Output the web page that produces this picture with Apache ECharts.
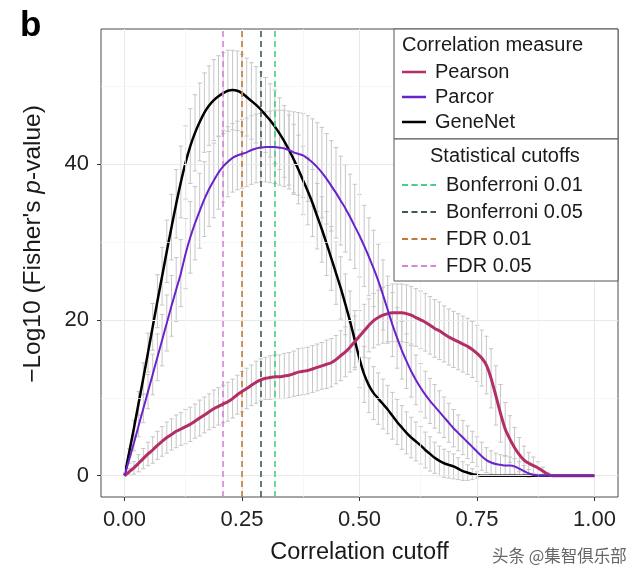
<!DOCTYPE html>
<html><head><meta charset="utf-8">
<script src="https://cdn.jsdelivr.net/npm/echarts@6/dist/echarts.min.js"></script>
<style>html,body{margin:0;padding:0;background:#fff}#c{width:640px;height:579px}</style>
</head><body><div id="c"></div>
<script>
// Correlation cutoff (x)
const cutoffs = [
  0.00,0.01,0.02,0.03,0.04,0.05,0.06,0.07,0.08,0.09,
  0.10,0.11,0.12,0.13,0.14,0.15,0.16,0.17,0.18,0.19,
  0.20,0.21,0.22,0.23,0.24,0.25,0.26,0.27,0.28,0.29,
  0.30,0.31,0.32,0.33,0.34,0.35,0.36,0.37,0.38,0.39,
  0.40,0.41,0.42,0.43,0.44,0.45,0.46,0.47,0.48,0.49,
  0.50,0.51,0.52,0.53,0.54,0.55,0.56,0.57,0.58,0.59,
  0.60,0.61,0.62,0.63,0.64,0.65,0.66,0.67,0.68,0.69,
  0.70,0.71,0.72,0.73,0.74,0.75,0.76,0.77,0.78,0.79,
  0.80,0.81,0.82,0.83,0.84,0.85,0.86,0.87,0.88,0.89,
  0.90,0.91,0.92,0.93,0.94,0.95,0.96,0.97,0.98,0.99,
  1.00];
// Pearson mean and error half-width
const pearson = [
  0,0.5,1.0,1.6,2.2,2.8,3.3,3.9,4.4,4.9,
  5.3,5.7,6.0,6.3,6.6,7.0,7.4,7.8,8.2,8.6,
  8.9,9.2,9.5,9.9,10.4,10.8,11.2,11.6,12.0,12.3,
  12.5,12.6,12.7,12.7,12.8,12.9,13.1,13.3,13.4,13.5,
  13.7,13.9,14.1,14.3,14.5,14.9,15.4,15.9,16.5,17.2,
  17.9,18.6,19.3,19.9,20.3,20.6,20.8,20.9,20.9,20.9,
  20.8,20.6,20.3,20.0,19.7,19.3,18.9,18.6,18.2,17.8,
  17.5,17.2,16.9,16.6,16.2,15.7,15.1,14.2,12.5,10.3,
  8.0,6.0,4.7,3.6,2.7,2.0,1.6,1.3,1.0,0.6,
  0.2,0,0,0,0,0,0,0,0,0,
  0];
const pearsonSd = [
  0,0.4,0.8,1.1,1.3,1.5,1.7,1.8,1.9,2.0,
  2.0,2.1,2.1,2.2,2.2,2.2,2.3,2.3,2.3,2.4,
  2.4,2.4,2.5,2.5,2.5,2.6,2.6,2.6,2.7,2.7,
  2.7,2.8,2.8,2.8,2.9,2.9,2.9,3.0,3.0,3.0,
  3.0,3.0,3.0,3.1,3.1,3.1,3.2,3.2,3.2,3.3,
  3.3,3.4,3.4,3.5,3.5,3.6,3.6,3.7,3.7,3.7,
  3.7,3.7,3.7,3.7,3.7,3.7,3.7,3.7,3.6,3.6,
  3.6,3.6,3.6,3.6,3.6,3.6,3.6,3.7,3.8,3.8,
  3.7,3.4,3.0,2.6,2.2,1.8,1.4,1.1,0.8,0.5,
  0.2,0,0,0,0,0,0,0,0,0,
  0];
// Parcor
const parcor = [
  0,2.1,4.2,6.4,8.6,10.8,13.0,15.2,17.4,19.6,
  21.8,23.9,26.0,28.5,30.6,32.4,34.0,35.5,36.8,37.9,
  38.9,39.7,40.3,40.8,41.1,41.3,41.5,41.8,42.0,42.1,
  42.2,42.2,42.2,42.1,42.0,41.8,41.5,41.3,41.1,40.7,
  40.2,39.6,38.9,38.1,37.2,36.3,35.3,34.3,33.2,32.0,
  30.8,29.5,28.1,26.6,25.0,23.2,21.3,19.4,17.7,16.1,
  14.7,13.4,12.3,11.3,10.4,9.6,8.9,8.2,7.5,6.8,
  6.1,5.5,4.9,4.3,3.7,3.1,2.5,2.0,1.7,1.5,
  1.4,1.3,1.3,1.2,0.9,0.6,0.3,0.1,0,0,
  0,0,0,0,0,0,0,0,0,0,
  0];
const parcorSd = [
  0,0.5,1.0,1.4,1.8,2.2,2.6,3.0,3.3,3.6,
  3.9,4.1,4.3,4.5,4.6,4.7,4.8,4.8,4.8,4.8,
  4.7,4.6,4.5,4.4,4.4,4.4,4.4,4.4,4.4,4.4,
  4.5,4.6,4.7,4.8,4.9,5.0,5.2,5.3,5.4,5.5,
  5.6,5.7,5.8,5.8,5.8,5.8,5.7,5.6,5.5,5.4,
  5.3,5.2,5.0,4.9,4.7,4.5,4.3,4.1,3.9,3.7,
  3.5,3.3,3.2,3.1,3.0,2.9,2.8,2.7,2.6,2.5,
  2.4,2.3,2.2,2.1,2.0,1.9,1.8,1.6,1.5,1.4,
  1.3,1.2,1.1,1.0,0.9,0.7,0.5,0.2,0,0,
  0,0,0,0,0,0,0,0,0,0,
  0];
// GeneNet
const geneNet = [
  0,3.0,6.1,9.3,12.5,15.8,19.1,22.4,25.6,28.8,
  31.9,34.9,37.7,40.2,42.3,44.0,45.4,46.6,47.5,48.2,
  48.7,49.1,49.4,49.5,49.4,49.1,48.6,48.1,47.6,47.0,
  46.3,45.6,44.8,43.9,42.9,41.8,40.6,39.3,37.9,36.5,
  35.0,33.3,31.6,29.8,27.9,26.0,24.1,22.0,19.8,17.4,
  15.0,13.0,11.6,10.6,9.9,9.2,8.5,7.7,6.9,6.2,
  5.5,4.9,4.4,3.9,3.3,2.8,2.3,1.9,1.6,1.4,
  1.2,0.9,0.6,0.4,0.2,0.1,0,0,0,0,
  0,0,0,0,0,0,0,0,0,0,
  0,0,0,0,0,0,0,0,0,0,
  0];
const geneNetSd = [
  0,0.5,1.0,1.5,2.0,2.5,3.0,3.4,3.7,4.0,
  4.2,4.4,4.6,4.7,4.8,4.9,5.0,5.1,5.1,5.2,
  5.2,5.2,5.2,5.1,5.1,5.0,5.0,4.9,4.9,4.8,
  4.8,4.7,4.7,4.6,4.6,4.5,4.5,4.4,4.4,4.3,
  4.3,4.2,4.2,4.1,4.1,4.0,4.0,3.9,3.9,3.8,
  3.7,3.6,3.5,3.4,3.3,3.2,3.1,3.0,2.9,2.8,
  2.7,2.6,2.5,2.4,2.3,2.2,2.0,1.9,1.8,1.7,
  1.6,1.4,1.2,1.0,0.7,0.4,0,0,0,0,
  0,0,0,0,0,0,0,0,0,0,
  0,0,0,0,0,0,0,0,0,0,
  0];
// Statistical cutoffs
const cutoffNames = ['Bonferroni 0.01','Bonferroni 0.05','FDR 0.01','FDR 0.05'];
const cutoffValues = [0.319, 0.294, 0.249, 0.213];
const measureNames = ['Pearson','Parcor','GeneNet'];
const xTicks = [0, 0.25, 0.5, 0.75, 1];
const yTicks = [0, 20, 40];
const xMinor = [0.125, 0.375, 0.625, 0.875];
const yMinor = [10, 30, 50];

const FONT = '"Liberation Sans", Arial, Helvetica, sans-serif';
const measureColors = ['#b32d66', '#6a22cc', '#000000'];
const cutoffColors = ['#45cf85', '#3e5a55', '#c07a3a', '#d583dc'];

function bars(mean, sd) {
  const out = [];
  for (let i = 0; i < cutoffs.length; i++) {
    if (sd[i] > 0) out.push([cutoffs[i], mean[i] - sd[i], mean[i] + sd[i]]);
  }
  return out;
}
const allBars = bars(pearson, pearsonSd).concat(bars(parcor, parcorSd), bars(geneNet, geneNetSd));
function pts(arr) { return cutoffs.map((x, i) => [x, arr[i]]); }

function renderBar(params, api) {
  const x = api.value(0), lo = api.value(1), hi = api.value(2);
  const a = api.coord([x, lo]), b = api.coord([x, hi]);
  const hw = 2.2;
  const st = { stroke: '#c6c6c6', lineWidth: 1 };
  return { type: 'group', children: [
    { type: 'line', shape: { x1: a[0], y1: a[1], x2: b[0], y2: b[1] }, style: st },
    { type: 'line', shape: { x1: a[0] - hw, y1: a[1], x2: a[0] + hw, y2: a[1] }, style: st },
    { type: 'line', shape: { x1: b[0] - hw, y1: b[1], x2: b[0] + hw, y2: b[1] }, style: st }
  ]};
}

const gridLines = []
  .concat(xTicks.map(v => ({ xAxis: v, lineStyle: { color: '#e8e8e8', width: 1, type: 'solid' } })))
  .concat(yTicks.map(v => ({ yAxis: v, lineStyle: { color: '#e8e8e8', width: 1, type: 'solid' } })))
  .concat(xMinor.map(v => ({ xAxis: v, lineStyle: { color: '#f3f3f3', width: 0.7, type: 'solid' } })))
  .concat(yMinor.map(v => ({ yAxis: v, lineStyle: { color: '#f3f3f3', width: 0.7, type: 'solid' } })));

const vLines = cutoffValues.map((v, i) => ({ xAxis: v, lineStyle: { color: cutoffColors[i], width: 1.6, type: [6, 4] } }));

// legend graphic
const LX = 394, LW = 224;
const legend = [];
legend.push({ type: 'rect', shape: { x: LX, y: 29, width: LW, height: 110 }, style: { fill: '#fff', stroke: '#555', lineWidth: 1 }, z: 100 });
legend.push({ type: 'rect', shape: { x: LX, y: 139, width: LW, height: 142 }, style: { fill: '#fff', stroke: '#555', lineWidth: 1 }, z: 100 });
legend.push({ type: 'text', x: 402, y: 45, z: 101, style: { text: 'Correlation measure', font: '20px ' + FONT, fill: '#1a1a1a', verticalAlign: 'middle', align: 'left' } });
measureNames.forEach((n, i) => {
  const y = 72 + i * 25;
  legend.push({ type: 'line', z: 101, shape: { x1: 402, y1: y, x2: 426, y2: y }, style: { stroke: measureColors[i], lineWidth: 2.5 } });
  legend.push({ type: 'text', x: 435, y: y, z: 101, style: { text: n, font: '20px ' + FONT, fill: '#1a1a1a', verticalAlign: 'middle', align: 'left' } });
});
legend.push({ type: 'text', x: 430, y: 156, z: 101, style: { text: 'Statistical cutoffs', font: '20px ' + FONT, fill: '#1a1a1a', verticalAlign: 'middle', align: 'left' } });
cutoffNames.forEach((n, i) => {
  const y = 185 + i * 27;
  legend.push({ type: 'line', z: 101, shape: { x1: 402, y1: y, x2: 436, y2: y }, style: { stroke: cutoffColors[i], lineWidth: 1.8, lineDash: [6, 3.5] } });
  legend.push({ type: 'text', x: 446, y: y, z: 101, style: { text: n, font: '20px ' + FONT, fill: '#1a1a1a', verticalAlign: 'middle', align: 'left' } });
});
// panel label, y title, watermark
legend.push({ type: 'text', x: 20, y: 26, z: 101, style: { text: 'b', font: 'bold 35px ' + FONT, fill: '#000', verticalAlign: 'middle', align: 'left' } });
legend.push({ type: 'text', x: 33, y: 244, rotation: Math.PI / 2, z: 101, style: {
  text: "\u2212Log10 (Fisher's {i|p}-value)", font: '24.5px ' + FONT, fill: '#1a1a1a', align: 'center', verticalAlign: 'middle',
  rich: { i: { fontStyle: 'italic', fontSize: 24.5, fontFamily: FONT, fill: '#1a1a1a', color: '#1a1a1a' } } } });
legend.push({ type: 'text', x: 492, y: 556, z: 101, style: { text: '头条 @集智俱乐部', font: '16.5px "Noto Sans CJK SC", sans-serif', fill: '#666', stroke: '#fff', lineWidth: 2, verticalAlign: 'middle', align: 'left' } });

const option = {
  animation: false,
  backgroundColor: '#fff',
  grid: { left: 101, right: 22, top: 29, bottom: 82, show: true, borderColor: '#4d4d4d', borderWidth: 1, backgroundColor: '#fff' },
  xAxis: {
    type: 'value', min: -0.05, max: 1.05,
    name: 'Correlation cutoff', nameLocation: 'middle', nameGap: 44,
    nameTextStyle: { fontSize: 23.5, fontFamily: FONT, color: '#1a1a1a' },
    axisLine: { show: false, onZero: false },
    axisTick: { show: true, length: 4, inside: false, customValues: xTicks, lineStyle: { color: '#333' } },
    axisLabel: { customValues: xTicks, fontSize: 22, fontFamily: FONT, color: '#222', margin: 12, formatter: v => v.toFixed(2) },
    splitLine: { show: false }
  },
  yAxis: {
    type: 'value', min: -2.73, max: 57.33,
    axisLine: { show: false, onZero: false },
    axisTick: { show: true, length: 4, inside: false, customValues: yTicks, lineStyle: { color: '#333' } },
    axisLabel: { customValues: yTicks, fontSize: 22, fontFamily: FONT, color: '#222', margin: 12, formatter: v => String(Math.round(v)) },
    splitLine: { show: false }
  },
  graphic: legend,
  series: [
    { type: 'line', data: [[0, 0]], symbol: 'none', lineStyle: { opacity: 0 }, z: 1, silent: true,
      markLine: { silent: true, symbol: 'none', label: { show: false }, data: gridLines, animation: false } },
    { type: 'custom', data: allBars, renderItem: renderBar, z: 2, silent: true },
    { type: 'line', data: [[0, 0]], symbol: 'none', lineStyle: { opacity: 0 }, z: 3, silent: true,
      markLine: { silent: true, symbol: 'none', label: { show: false }, data: vLines, animation: false } },
    { name: 'GeneNet', type: 'line', data: pts(geneNet), showSymbol: false, smooth: 0.2, lineStyle: { color: measureColors[2], width: 2.5 }, z: 4 },
    { name: 'Pearson', type: 'line', data: pts(pearson), showSymbol: false, smooth: 0.2, lineStyle: { color: measureColors[0], width: 3 }, z: 5 },
    { name: 'Parcor', type: 'line', data: pts(parcor), showSymbol: false, smooth: 0.2, lineStyle: { color: measureColors[1], width: 2 }, z: 6 }
  ]
};
const chart = echarts.init(document.getElementById('c'));
chart.setOption(option);
</script>
</body></html>
